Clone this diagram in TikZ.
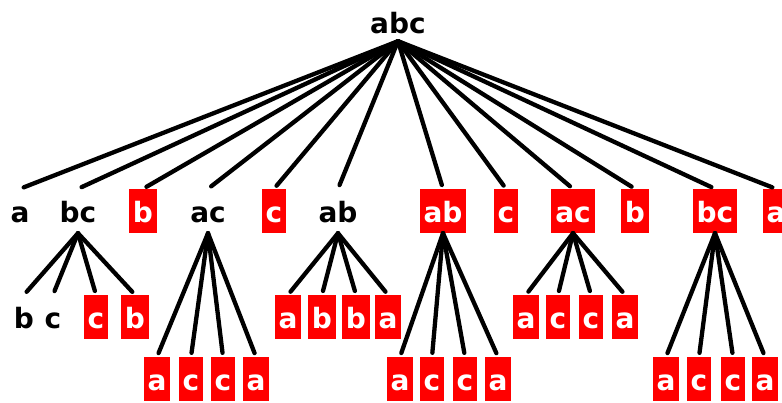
\documentclass[tikz,border=0pt]{standalone}
\usepackage{fontspec}
\setmainfont{DejaVu Sans}
\begin{document}
\begin{tikzpicture}[x=1pt,y=-1pt,
  lbl/.style={font=\fontsize{28}{28}\selectfont\bfseries, inner xsep=4pt, inner ysep=0pt,
    text height=33pt, text depth=11pt, anchor=center},
  blk/.style={lbl, text=black},
  red/.style={lbl, fill=red, text=white},
  edge/.style={line width=4.3pt, line cap=round, shorten >=4pt}]
\useasboundingbox (0,0) rectangle (782,402);
% root
\node[blk] (r) at (398,22) {abc};
% level 1
\node[blk] (l1) at (20,211) {a};
\node[blk] (l2) at (78,211) {bc};
\node[red] (l3) at (143,211) {b};
\node[blk] (l4) at (208,211) {ac};
\node[red] (l5) at (274,211) {c};
\node[blk] (l6) at (338,211) {ab};
\node[red] (l7) at (443,211) {ab};
\node[red] (l8) at (506,211) {c};
\node[red] (l9) at (573,211) {ac};
\node[red] (l10) at (635,211) {b};
\node[red] (l11) at (715,211) {bc};
\node[red] (l12) at (776,211) {a};
\foreach \i in {1,...,12} \draw[edge] ([yshift=3pt]r.south) -- (l\i.north);
% level 2 under bc
\node[blk] (m1) at (24,317) {b};
\node[blk] (m2) at (53,317) {c};
\node[red] (m3) at (96,317) {c};
\node[red] (m4) at (135,317) {b};
% under ab
\node[red] (m5) at (288,317) {a};
\node[red] (m6) at (322,317) {b};
\node[red] (m7) at (356,317) {b};
\node[red] (m8) at (388,317) {a};
% under red ac
\node[red] (m9) at (526,317) {a};
\node[red] (m10) at (558,317) {c};
\node[red] (m11) at (591,317) {c};
\node[red] (m12) at (625,317) {a};
\foreach \i in {1,...,4} \draw[edge] (l2.south) -- (m\i.north);
\foreach \i in {5,...,8} \draw[edge] (l6.south) -- (m\i.north);
\foreach \i in {9,...,12} \draw[edge] (l9.south) -- (m\i.north);
% level 3
\node[red] (n1) at (157,379) {a};
\node[red] (n2) at (191,379) {c};
\node[red] (n3) at (223,379) {c};
\node[red] (n4) at (256,379) {a};
\node[red] (n5) at (400,379) {a};
\node[red] (n6) at (432,379) {c};
\node[red] (n7) at (465,379) {c};
\node[red] (n8) at (498,379) {a};
\node[red] (n9) at (666,379) {a};
\node[red] (n10) at (699,379) {c};
\node[red] (n11) at (733,379) {c};
\node[red] (n12) at (765,379) {a};
\foreach \i in {1,...,4} \draw[edge] (l4.south) -- (n\i.north);
\foreach \i in {5,...,8} \draw[edge] (l7.south) -- (n\i.north);
\foreach \i in {9,...,12} \draw[edge] (l11.south) -- (n\i.north);
\end{tikzpicture}
\end{document}
